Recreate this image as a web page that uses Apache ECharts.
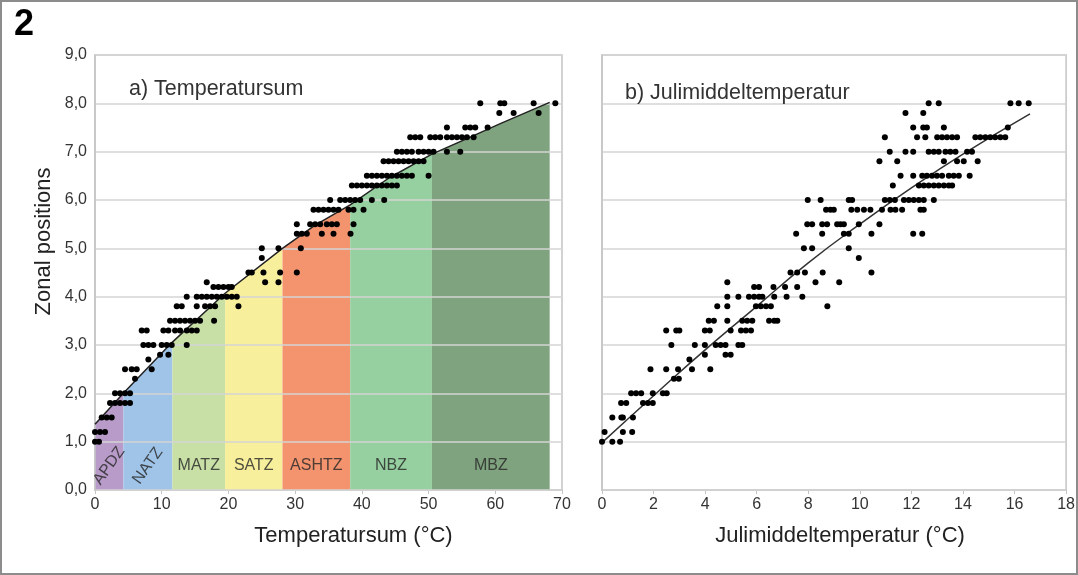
<!DOCTYPE html>
<html>
<head>
<meta charset="utf-8">
<title>Zonal positions</title>
<script src="https://cdn.jsdelivr.net/npm/echarts@6/dist/echarts.min.js"></script>
<style>
  html, body { margin: 0; padding: 0; background: #fff; }
  #chart { width: 1078px; height: 575px; }
</style>
</head>
<body>
<div id="chart"></div>
<script>
// a) temperature sum: rows of [zonal position, [temperature sums]]
const sumRows = [
  [1.0, [0, 0.6]],
  [1.2, [0, 0.75, 1.5]],
  [1.5, [1.0, 1.75, 2.5]],
  [1.8, [2.25, 3.0, 3.75, 4.5, 5.25]],
  [2.0, [3.0, 3.75, 4.5, 5.25]],
  [2.3, [6.0]],
  [2.5, [4.5, 5.5, 6.25, 8.5]],
  [2.7, [8.0]],
  [2.8, [9.75, 11.0]],
  [3.0, [7.25, 8.0, 8.75, 10.0, 10.75, 11.5, 13.75]],
  [3.3, [7.0, 7.75, 10.25, 11.0, 12.0, 12.75, 13.75, 14.5, 15.25]],
  [3.5, [11.25, 12.0, 12.75, 13.5, 14.25, 15.0, 15.75, 17.85]],
  [3.8, [12.25, 13.0, 15.25, 16.5, 17.25, 18.0, 21.5]],
  [4.0, [13.75, 15.25, 16.0, 16.75, 17.5, 18.25, 19.0, 19.75, 20.5, 21.25]],
  [4.2, [17.75, 18.5, 19.25, 20.0, 20.5]],
  [4.3, [16.75, 25.5, 27.5]],
  [4.5, [23.0, 23.5, 25.25, 27.75, 30.25]],
  [4.8, [25.0]],
  [5.0, [25.0, 27.5, 30.85]],
  [5.3, [30.25, 31.0, 31.75, 34.0, 35.75, 38.3]],
  [5.5, [30.25, 32.25, 33.0, 33.75, 34.75, 35.5, 36.25, 38.75]],
  [5.8, [32.75, 33.5, 34.25, 35.0, 35.75, 36.5, 38.0, 38.75, 40.25]],
  [6.0, [35.25, 36.75, 37.5, 38.25, 39.0, 39.75, 41.5, 43.35]],
  [6.3, [38.5, 39.25, 40.0, 40.75, 41.5, 42.25, 43.0, 43.75, 44.5, 45.25]],
  [6.5, [40.75, 41.5, 42.25, 43.0, 43.75, 44.5, 45.25, 46.0, 46.75, 47.5, 50.0]],
  [6.8, [43.25, 44.0, 44.75, 45.5, 46.25, 47.0, 47.75, 48.5, 49.25]],
  [7.0, [45.25, 46.0, 46.75, 47.5, 48.5, 49.25, 50.0, 50.75, 52.75, 54.75]],
  [7.3, [47.25, 48.0, 48.75, 50.25, 51.0, 51.75, 52.75, 53.5, 54.25, 55.0, 55.75, 56.75]],
  [7.5, [52.75, 55.5, 56.25, 57.0, 58.85]],
  [7.8, [60.6, 62.75, 66.5]],
  [8.0, [57.75, 60.75, 61.35, 65.75, 69.0]]
];

// fitted curve for a)
const sumTrendX = [0, 4.25, 11.6, 19.5, 28.1, 33, 38.25, 44, 50.5, 55.75, 60.75, 68.15];
const sumTrendY = [1.36, 2.0, 3.06, 4.07, 5.0, 5.48, 5.9, 6.45, 6.95, 7.27, 7.58, 8.02];

// zones under the curve
const zoneNames = ['APDZ', 'NATZ', 'MATZ', 'SATZ', 'ASHTZ', 'NBZ', 'MBZ'];
const zoneEdges = [0, 4.25, 11.6, 19.5, 28.1, 38.25, 50.5, 68.15];
const zoneColors = ['#b89bc9', '#9fc4e8', '#c8e0a6', '#f7ef9c', '#f3946f', '#97d0a0', '#7fa37f'];

// b) July mean temperature: rows of [zonal position, [temperatures]]
const julyRows = [
  [1.0, [0, 0.4, 0.7]],
  [1.2, [0.1, 0.81, 1.17]],
  [1.5, [0.4, 0.75, 0.81, 1.2]],
  [1.8, [0.74, 0.94, 1.59, 1.78, 1.97]],
  [2.0, [1.13, 1.32, 1.52, 1.97, 2.36, 2.51]],
  [2.3, [2.79, 2.98]],
  [2.5, [1.88, 2.49, 2.95, 3.49, 4.2]],
  [2.7, [3.39]],
  [2.8, [3.99, 4.79, 4.99]],
  [3.0, [2.69, 3.6, 3.99, 4.41, 4.6, 4.79, 5.29, 5.44]],
  [3.3, [2.49, 2.88, 3.0, 3.99, 4.18, 4.99, 5.39, 5.58, 5.78]],
  [3.5, [4.14, 4.34, 4.86, 5.44, 5.63, 5.83, 6.48, 6.68, 6.8]],
  [3.8, [4.47, 4.86, 5.97, 6.16, 6.36, 6.55, 8.74]],
  [4.0, [4.86, 5.29, 5.7, 5.9, 6.09, 6.22, 6.68, 7.16, 7.77]],
  [4.2, [5.9, 6.09, 6.65, 7.1, 7.57]],
  [4.3, [4.86, 8.28, 9.2]],
  [4.5, [7.31, 7.57, 7.87, 8.56, 10.45]],
  [4.8, [9.96]],
  [5.0, [7.83, 8.15, 9.57]],
  [5.3, [7.53, 8.54, 9.38, 9.57, 10.45, 12.07, 12.42]],
  [5.5, [7.96, 8.15, 8.54, 8.73, 9.12, 9.25, 9.38, 9.96, 10.76]],
  [5.8, [8.69, 8.86, 8.99, 9.67, 9.9, 10.16, 10.41, 10.86, 11.19, 11.38, 11.64, 12.35, 12.48]],
  [6.0, [7.98, 8.48, 9.57, 9.7, 10.97, 11.16, 11.36, 11.71, 11.9, 12.09, 12.29, 12.48, 12.87]],
  [6.3, [11.28, 12.29, 12.48, 12.67, 12.87, 13.06, 13.26, 13.45, 13.58]],
  [6.5, [11.58, 12.07, 12.42, 12.6, 12.8, 12.99, 13.19, 13.45, 13.64, 13.84, 14.26]],
  [6.8, [10.76, 11.45, 13.26, 13.77, 14.03, 14.57]],
  [7.0, [11.16, 11.77, 12.07, 12.67, 12.87, 13.06, 13.32, 13.51, 13.71, 14.16, 14.35]],
  [7.3, [10.97, 12.22, 12.54, 13.0, 13.19, 13.38, 13.58, 13.77, 14.48, 14.67, 14.87, 15.06, 15.25, 15.45, 15.64]],
  [7.5, [12.07, 12.46, 12.6, 13.26, 15.74]],
  [7.8, [11.77, 12.46]],
  [8.0, [12.67, 13.06, 15.84, 16.16, 16.55]]
];

// fitted curve for b)
const julyTrendX = [0, 2, 4, 6, 8, 10, 12, 14, 16.6];
const julyTrendY = [0.98, 1.95, 2.9, 3.8, 4.7, 5.5, 6.25, 6.95, 7.78];

const FONT = '"Liberation Sans", Arial, sans-serif';
const TEXT = '#333';
const FRAME = '#c4c4c4';

function flatten(rows) {
  const out = [];
  rows.forEach(r => r[1].forEach(x => out.push([x, r[0]])));
  return out;
}

function pairs(xs, ys) {
  return xs.map((x, i) => [x, ys[i]]);
}

const sumTrend = pairs(sumTrendX, sumTrendY);
const julyTrend = pairs(julyTrendX, julyTrendY);

// shift is used to nudge the centred axis name off the grid middle, like the original
function makeXAxis(idx, max, interval, name, shift) {
  return {
    type: 'value', gridIndex: idx, min: 0, max: max, interval: interval,
    axisLine: { show: true, lineStyle: { color: FRAME, width: 1.5 } },
    axisTick: { show: true, length: 4, lineStyle: { color: FRAME } },
    axisLabel: { color: TEXT, fontSize: 16, fontFamily: FONT, margin: 7 },
    splitLine: { show: false },
    name: name, nameLocation: 'middle', nameGap: 35,
    nameTextStyle: { color: '#222', fontSize: 22, fontFamily: FONT, padding: [0, 0, 0, shift * 2] }
  };
}

function makeYAxis(idx, showLabels) {
  return {
    type: 'value', gridIndex: idx, min: 0, max: 9, interval: 1, z: 3,
    axisLine: { show: true, lineStyle: { color: FRAME, width: 1.5 } },
    axisTick: { show: false },
    axisLabel: {
      show: showLabels, color: TEXT, fontSize: 16, fontFamily: FONT, margin: 8,
      formatter: v => v.toFixed(1).replace('.', ',')
    },
    splitLine: { show: true, lineStyle: { color: '#d4d4d4', width: 1.5 } },
    name: showLabels ? 'Zonal positions' : '', nameLocation: 'middle', nameGap: 40,
    nameTextStyle: { color: '#222', fontSize: 22, fontFamily: FONT, padding: [0, 0, 0, 62] }
  };
}

const series = [];

// coloured zones, each filled under its stretch of the curve
zoneNames.forEach((name, i) => {
  const lo = zoneEdges[i], hi = zoneEdges[i + 1];
  series.push({
    name: name, type: 'line', xAxisIndex: 0, yAxisIndex: 0, z: 1,
    data: sumTrend.filter(p => p[0] >= lo && p[0] <= hi),
    symbol: 'none', silent: true,
    lineStyle: { width: 0 },
    areaStyle: { color: zoneColors[i], opacity: 1 }
  });
});

// zone labels
series.push({
  type: 'scatter', xAxisIndex: 0, yAxisIndex: 0, z: 6, symbolSize: 0, silent: true,
  data: zoneNames.map((name, i) => ({
    name: name,
    value: [(zoneEdges[i] + zoneEdges[i + 1]) / 2, 0.5],
    label: { rotate: i < 2 ? 55 : 0 }
  })),
  label: {
    show: true, position: 'inside', formatter: '{b}',
    color: '#262626', fontSize: 16, fontFamily: FONT
  }
});

series.push({
  type: 'line', xAxisIndex: 0, yAxisIndex: 0, z: 4, data: sumTrend,
  symbol: 'none', silent: true, lineStyle: { color: '#222', width: 1.5 }
});

series.push({
  type: 'scatter', xAxisIndex: 0, yAxisIndex: 0, z: 5, data: flatten(sumRows),
  symbolSize: 6, itemStyle: { color: '#000', opacity: 1 }
});

series.push({
  type: 'line', xAxisIndex: 1, yAxisIndex: 1, z: 4, data: julyTrend, smooth: true,
  symbol: 'none', silent: true, lineStyle: { color: '#333', width: 1.5 }
});

series.push({
  type: 'scatter', xAxisIndex: 1, yAxisIndex: 1, z: 5, data: flatten(julyRows),
  symbolSize: 6, itemStyle: { color: '#000', opacity: 1 }
});

const chart = echarts.init(document.getElementById('chart'), null, { renderer: 'canvas' });
chart.setOption({
  animation: false,
  backgroundColor: '#fff',
  textStyle: { fontFamily: FONT },
  title: [
    { text: '2', left: 9, top: 2, textStyle: { fontSize: 36, fontWeight: 'bold', color: '#000', fontFamily: FONT } },
    { text: 'a) Temperatursum', left: 124, top: 73, textStyle: { fontSize: 21.5, fontWeight: 'normal', color: TEXT, fontFamily: FONT } },
    { text: 'b) Julimiddeltemperatur', left: 620, top: 77, textStyle: { fontSize: 21.5, fontWeight: 'normal', color: TEXT, fontFamily: FONT } }
  ],
  graphic: [{
    type: 'rect', shape: { x: 1, y: 1, width: 1076, height: 573 },
    style: { fill: null, stroke: '#8c8c8c', lineWidth: 2 }, silent: true
  }],
  grid: [
    { left: 95, top: 55, width: 467, height: 435, show: true, borderColor: FRAME, borderWidth: 1.5 },
    { left: 602, top: 55, width: 465, height: 435, show: true, borderColor: FRAME, borderWidth: 1.5 }
  ],
  xAxis: [
    makeXAxis(0, 70, 10, 'Temperatursum (°C)', 25),
    makeXAxis(1, 18, 2, 'Julimiddeltemperatur (°C)', 6)
  ],
  yAxis: [makeYAxis(0, true), makeYAxis(1, false)],
  series: series
});
</script>
</body>
</html>
